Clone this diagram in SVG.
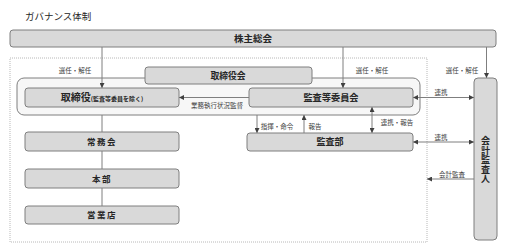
<svg xmlns="http://www.w3.org/2000/svg" width="506" height="252" viewBox="0 0 506 252">
<style>
.box{fill:#d9d9d9;stroke:#7f7f7f;stroke-width:1}
.t{font-family:"Noto Sans CJK JP","Noto Sans",sans-serif;fill:#262626;text-anchor:middle;font-weight:bold}
.lbl{font-family:"Noto Sans CJK JP","Noto Sans",sans-serif;fill:#404040;font-size:6.5px;text-anchor:middle}
.ln{stroke:#7f7f7f;stroke-width:1;fill:none}
</style>
<defs>
<marker id="ah" viewBox="0 0 6 6" refX="6" refY="3" markerWidth="5" markerHeight="5" orient="auto-start-reverse" markerUnits="userSpaceOnUse">
<path d="M0,0 L6,3 L0,6 z" fill="#404040"/>
</marker>
</defs>
<rect width="506" height="252" fill="#ffffff"/>
<text x="25" y="20" font-family="'Noto Sans CJK JP','Noto Sans',sans-serif" font-size="9.5" fill="#262626">ガバナンス体制</text>

<rect id="scope" x="10" y="58" width="417" height="184" fill="none" stroke="#a6a6a6" stroke-width="0.8" stroke-dasharray="1,1"/>

<g id="board-container">
<rect x="17" y="78" width="403" height="37" rx="7" fill="#f7f7f7" stroke="#7f7f7f"/>
</g>

<g id="connectors">
<line class="ln" x1="102" y1="47" x2="102" y2="88" marker-end="url(#ah)"/>
<line class="ln" x1="343" y1="47" x2="343" y2="88" marker-end="url(#ah)"/>
<line class="ln" x1="486.5" y1="47" x2="486.5" y2="78" marker-end="url(#ah)"/>
<line class="ln" x1="249" y1="97.5" x2="179" y2="97.5" marker-end="url(#ah)"/>
<line class="ln" x1="102" y1="115" x2="102" y2="206"/>
<line class="ln" x1="257" y1="115" x2="257" y2="133" marker-end="url(#ah)"/>
<line class="ln" x1="304" y1="133" x2="304" y2="115" marker-end="url(#ah)"/>
<line class="ln" x1="372" y1="107" x2="372" y2="133" marker-start="url(#ah)" marker-end="url(#ah)"/>
<line class="ln" x1="413" y1="97.5" x2="474" y2="97.5" marker-start="url(#ah)" marker-end="url(#ah)"/>
<line class="ln" x1="413" y1="142" x2="474" y2="142" marker-start="url(#ah)" marker-end="url(#ah)"/>
<line class="ln" x1="474" y1="179" x2="427" y2="179" marker-end="url(#ah)"/>
<text class="lbl" x="75" y="72.5">選任・解任</text>
<text class="lbl" x="372" y="72.5">選任・解任</text>
<text class="lbl" x="462" y="72.5">選任・解任</text>
<text class="lbl" x="217" y="107.5">業務執行状況監督</text>
<text class="lbl" x="277" y="128.5">指揮・命令</text>
<text class="lbl" x="315" y="128.5">報告</text>
<text class="lbl" x="397" y="124.5">連携・報告</text>
<text class="lbl" x="441" y="95">連携</text>
<text class="lbl" x="441" y="139.5">連携</text>
<text class="lbl" x="452" y="176.5">会計監査</text>
</g>

<g id="shareholders">
<rect class="box" x="10" y="30" width="486" height="17" rx="3"/>
<text class="t" x="253" y="41.8" font-size="9.5">株主総会</text>
</g>

<g id="board">
<rect class="box" x="145" y="67" width="167" height="17" rx="3"/>
<text class="t" x="228" y="78.8" font-size="8.8">取締役会</text>
</g>

<g id="directors">
<rect class="box" x="25" y="88" width="154" height="19" rx="3"/>
<text class="t" x="102" y="101.3"><tspan font-size="10">取締役</tspan><tspan font-size="6">(監査等委員を除く)</tspan></text>
</g>

<g id="audit-committee">
<rect class="box" x="249" y="88" width="164" height="19" rx="3"/>
<text class="t" x="331" y="100.8" font-size="9.2">監査等委員会</text>
</g>

<g id="managing-committee">
<rect class="box" x="25" y="132" width="154" height="19" rx="3"/>
<text class="t" x="102" y="144.8" font-size="8.5" letter-spacing="1.5">常務会</text>
</g>

<g id="headquarters">
<rect class="box" x="25" y="169" width="154" height="19" rx="3"/>
<text class="t" x="102" y="181.8" font-size="8.5" letter-spacing="1.5">本部</text>
</g>

<g id="branches">
<rect class="box" x="25" y="206" width="154" height="18" rx="3"/>
<text class="t" x="102" y="218.3" font-size="8.5" letter-spacing="1.5">営業店</text>
</g>

<g id="audit-dept">
<rect class="box" x="247" y="133" width="166" height="18" rx="3"/>
<text class="t" x="330" y="145.3" font-size="9">監査部</text>
</g>

<g id="accounting-auditor">
<rect class="box" x="474" y="78" width="23" height="162" rx="4"/>
<text class="t" x="485.5" y="160" font-size="9" writing-mode="vertical-rl" letter-spacing="0.5">会計監査人</text>
</g>
</svg>
